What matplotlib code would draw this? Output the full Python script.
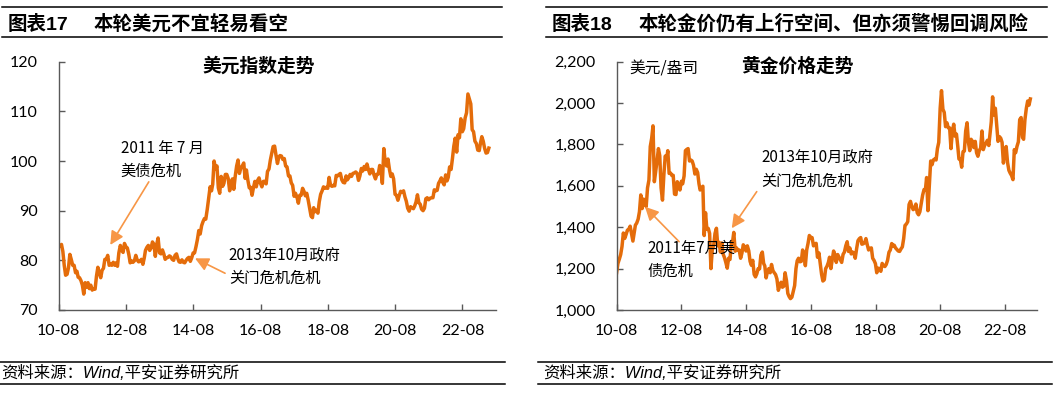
import matplotlib
matplotlib.use('Agg')
import matplotlib.pyplot as plt
import matplotlib.dates as mdates
from matplotlib.lines import Line2D
from matplotlib.ticker import FuncFormatter, MultipleLocator
import pandas as pd

plt.rcParams['font.family'] = ['Noto Sans CJK SC', 'DejaVu Sans']

# 半月频数据（每月15日、月末），起点 2010-07-31
start_date = '2010-07-31'

dxy_values = [
    83.0, 82.8, 83.2, 81.8, 79.0, 77.0, 77.2, 78.5, 81.2, 80.2, 79.0,  # 2010
    79.0, 77.5, 77.8, 76.6, 76.5, 75.9, 75.0, 73.2, 75.5, 74.6, 75.5, 74.3,
    75.0, 74.0, 74.3, 74.2, 76.8, 78.6, 77.5, 76.5, 78.0, 78.4, 80.2, 80.2,  # 2011
    81.0, 79.0, 79.3, 79.0, 79.6, 79.0, 79.5, 78.8, 81.5, 83.0, 82.0, 81.6,
    83.4, 82.7, 82.5, 81.2, 79.5, 79.9, 79.6, 79.9, 81.0, 80.1, 79.7, 79.8,  # 2012
    80.2, 79.2, 80.5, 82.0, 82.6, 83.0, 82.0, 82.5, 83.7, 83.2, 80.8, 83.2,
    84.5, 81.5, 81.3, 82.1, 81.3, 80.2, 80.5, 80.6, 80.9, 80.7, 80.2, 80.0,  # 2013
    81.0, 81.3, 80.3, 79.7, 79.6, 80.1, 79.6, 79.5, 80.0, 80.4, 80.6, 79.8,
    80.5, 81.5, 81.5, 82.8, 84.2, 86.0, 85.3, 87.0, 87.8, 88.4, 88.3, 90.3,  # 2014
    92.5, 94.8, 94.0, 95.3, 100.0, 98.4, 99.0, 94.6, 93.5, 96.9, 94.9, 95.5,
    97.3, 97.3, 96.5, 94.0, 95.5, 96.4, 94.3, 97.0, 99.0, 100.2, 97.5, 98.6,  # 2015
    99.0, 99.6, 96.5, 98.2, 96.2, 94.6, 94.7, 93.1, 94.6, 95.9, 94.8, 96.1,
    96.6, 95.5, 94.8, 95.9, 95.9, 95.4, 97.9, 98.4, 100.2, 101.5, 102.9, 103.0,  # 2016
    101.2, 99.5, 100.8, 101.1, 101.0, 100.3, 100.5, 99.0, 98.8, 97.0, 97.0, 95.6,
    95.1, 92.9, 93.5, 92.7, 91.5, 93.1, 93.1, 94.5, 93.9, 93.0, 93.5, 92.1,  # 2017
    90.6, 88.9, 88.6, 90.6, 89.8, 90.1, 89.5, 91.8, 93.3, 94.0, 94.8, 94.5,
    94.7, 94.5, 96.7, 95.1, 94.9, 95.1, 95.0, 97.1, 97.0, 97.3, 97.5, 96.2,  # 2018
    95.7, 95.6, 97.0, 96.2, 96.6, 97.3, 96.9, 97.5, 97.6, 97.8, 97.5, 96.1,
    97.0, 98.5, 98.0, 98.9, 98.3, 99.4, 98.3, 97.4, 98.3, 98.3, 97.2, 96.4,  # 2019
    97.3, 97.4, 99.1, 98.1, 95.5, 102.5, 99.8, 99.0, 100.4, 98.3, 96.9, 97.4,
    96.4, 93.3, 93.1, 92.1, 93.1, 93.9, 93.7, 94.0, 92.8, 91.9, 90.5, 89.9,  # 2020
    90.8, 90.6, 90.4, 90.9, 91.7, 93.2, 91.6, 91.3, 90.3, 90.0, 90.5, 92.4,
    92.6, 92.2, 92.5, 92.6, 92.6, 94.2, 94.0, 94.1, 95.5, 96.0, 96.6, 95.7,  # 2021
    95.2, 97.2, 96.0, 96.7, 98.8, 98.3, 100.5, 103.0, 104.6, 101.8, 105.3, 104.7,
    108.5, 105.9, 106.5, 108.7, 109.7, 113.5, 112.5, 111.5, 106.3, 105.9, 104.0, 103.5,  # 2022
    102.2, 102.1, 103.8, 104.9, 104.0, 102.5, 101.6, 101.7, 102.6,  # 2023
]

gold_values = [
    1180, 1225, 1246, 1268, 1307, 1372, 1346, 1365, 1386, 1390, 1405,  # 2010
    1370, 1333, 1375, 1410, 1420, 1439, 1475, 1556, 1490, 1536, 1530, 1500,
    1590, 1628, 1790, 1830, 1890, 1620, 1670, 1722, 1780, 1746, 1590, 1531,  # 2011
    1650, 1744, 1730, 1770, 1660, 1662, 1650, 1651, 1560, 1558, 1620, 1598,
    1580, 1622, 1610, 1648, 1770, 1776, 1780, 1720, 1725, 1720, 1700, 1657,  # 2012
    1680, 1664, 1610, 1580, 1590, 1598, 1360, 1470, 1390, 1394, 1370, 1200,
    1290, 1313, 1370, 1395, 1310, 1327, 1280, 1324, 1270, 1253, 1230, 1202,  # 2013
    1250, 1244, 1320, 1326, 1375, 1284, 1300, 1289, 1290, 1250, 1275, 1315,
    1305, 1285, 1310, 1286, 1235, 1216, 1240, 1172, 1160, 1175, 1200, 1199,  # 2014
    1265, 1280, 1225, 1213, 1155, 1187, 1200, 1180, 1220, 1190, 1180, 1171,
    1150, 1095, 1115, 1134, 1110, 1115, 1180, 1142, 1080, 1065, 1055, 1062,  # 2015
    1090, 1118, 1200, 1238, 1250, 1233, 1235, 1290, 1270, 1214, 1290, 1321,
    1360, 1350, 1350, 1310, 1320, 1322, 1255, 1276, 1225, 1173, 1140, 1146,  # 2016
    1200, 1212, 1230, 1255, 1200, 1245, 1285, 1266, 1230, 1268, 1255, 1242,
    1230, 1269, 1280, 1311, 1330, 1283, 1300, 1271, 1280, 1275, 1250, 1297,  # 2017
    1335, 1345, 1350, 1318, 1320, 1325, 1345, 1315, 1290, 1298, 1300, 1250,
    1240, 1224, 1180, 1202, 1200, 1187, 1225, 1215, 1210, 1220, 1240, 1279,  # 2018
    1290, 1321, 1310, 1313, 1300, 1292, 1285, 1283, 1295, 1305, 1345, 1409,
    1415, 1427, 1510, 1525, 1500, 1485, 1490, 1512, 1470, 1460, 1475, 1517,  # 2019
    1555, 1582, 1580, 1640, 1480, 1600, 1720, 1702, 1725, 1730, 1725, 1780,
    1810, 1975, 2060, 1970, 1955, 1886, 1905, 1880, 1880, 1780, 1860, 1898,  # 2020
    1840, 1850, 1790, 1730, 1730, 1690, 1765, 1768, 1865, 1905, 1810, 1770,
    1825, 1815, 1785, 1815, 1760, 1743, 1770, 1783, 1865, 1775, 1795, 1806,  # 2021
    1820, 1795, 1855, 1909, 2030, 1942, 1975, 1897, 1815, 1838, 1830, 1810,
    1710, 1765, 1790, 1712, 1675, 1661, 1650, 1630, 1775, 1760, 1790, 1813,  # 2022
    1920, 1930, 1835, 1825, 1920, 1975, 2010, 1990, 2020,  # 2023
]

try:
    dates = pd.date_range(start_date, periods=len(dxy_values), freq='SME')
except ValueError:
    dates = pd.date_range(start_date, periods=len(dxy_values), freq='SM')

x_min, x_max = pd.Timestamp('2010-08-01'), pd.Timestamp('2023-08-01')

line_color = '#E46C0A'
arrow_color = '#F79646'
spine_color = '#595959'
tick_font = ['Lato', 'Noto Sans CJK SC']


def style_axis(ax, ylim, ystep, yfmt):
    ax.set_xlim(x_min, x_max)
    ax.set_ylim(*ylim)
    ax.yaxis.set_major_locator(MultipleLocator(ystep))
    ax.yaxis.set_major_formatter(FuncFormatter(yfmt))
    ax.xaxis.set_major_locator(mdates.YearLocator(2, month=8, day=1))
    ax.xaxis.set_major_formatter(mdates.DateFormatter('%y-%m'))
    for s in ['top', 'right']:
        ax.spines[s].set_visible(False)
    for s in ['left', 'bottom']:
        ax.spines[s].set_color(spine_color)
        ax.spines[s].set_linewidth(1.0)
    ax.tick_params(axis='both', direction='in', length=4, width=1, color=spine_color,
                   labelsize=11.5)
    ax.tick_params(axis='y', pad=15)
    ax.tick_params(axis='x', pad=10)
    for lab in ax.get_xticklabels() + ax.get_yticklabels():
        lab.set_family(tick_font)


def arrow(ax, tip, tail):
    ax.annotate('', xy=(mdates.date2num(pd.Timestamp(tip[0])), tip[1]),
                xytext=(mdates.date2num(pd.Timestamp(tail[0])), tail[1]),
                arrowprops=dict(arrowstyle='-|>,head_length=0.9,head_width=0.45',
                                color=arrow_color, lw=1.2, shrinkA=0, shrinkB=0,
                                mutation_scale=9))


fig = plt.figure(figsize=(10.54, 3.96), dpi=100)

# 左图：美元指数
ax1 = fig.add_axes([0.0557, 0.2172, 0.4149, 0.627])
ax1.plot(dates, dxy_values, color=line_color, lw=2.5)
style_axis(ax1, (70, 120), 10, lambda v, p: f'{v:.0f}')
ax1.text(0.458, 0.981, '美元指数走势', transform=ax1.transAxes, ha='center', va='center',
         fontsize=13.5, fontweight='bold')
ax1.text(0.142, 0.606, '2011 年 7 月\n美债危机', transform=ax1.transAxes, ha='left',
         va='center', fontsize=11, linespacing=1.45)
ax1.text(0.389, 0.173, '2013年10月政府\n关门危机危机', transform=ax1.transAxes, ha='left',
         va='center', fontsize=11, linespacing=1.45)
arrow(ax1, ('2012-02-12', 83.1), ('2013-04-05', 95.8))
arrow(ax1, ('2014-08-20', 80.4), ('2015-07-12', 77.4))

# 右图：黄金价格
ax2 = fig.add_axes([0.5851, 0.2172, 0.399, 0.627])
ax2.plot(dates, gold_values, color=line_color, lw=2.5)
style_axis(ax2, (1000, 2200), 200, lambda v, p: f'{v:,.0f}')
ax2.text(0.430, 0.981, '黄金价格走势', transform=ax2.transAxes, ha='center', va='center',
         fontsize=13.5, fontweight='bold')
ax2.text(0.030, 0.969, '美元/盎司', transform=ax2.transAxes, ha='left', va='center',
         fontsize=11.3)
ax2.text(0.343, 0.566, '2013年10月政府\n关门危机危机', transform=ax2.transAxes, ha='left',
         va='center', fontsize=11, linespacing=1.45)
ax2.text(0.073, 0.203, '2011年7月美\n债危机', transform=ax2.transAxes, ha='left',
         va='center', fontsize=11, linespacing=1.45)
arrow(ax2, ('2014-02-20', 1395), ('2014-11-29', 1572))
arrow(ax2, ('2011-06-16', 1499), ('2012-07-06', 1330))

# 标题栏与来源栏
head_font = ['Liberation Sans', 'Noto Sans CJK SC']
for x0, x1 in [(2, 502), (546, 1047)]:
    for yy in [0.9823, 0.9058]:
        fig.add_artist(Line2D([x0 / 1054, x1 / 1054], [yy, yy], color='black', lw=1.1))
for x0, x1 in [(0, 505), (538, 1052)]:
    for yy in [0.0866, 0.0295]:
        fig.add_artist(Line2D([x0 / 1054, x1 / 1054], [yy, yy], color='black', lw=1.1))

fig.text(7.3 / 1054, 0.939, '图表17', family=head_font, fontsize=14, fontweight='bold', va='center')
fig.text(94 / 1054, 0.939, '本轮美元不宜轻易看空', family=head_font, fontsize=14,
         fontweight='bold', va='center')
fig.text(552 / 1054, 0.939, '图表18', family=head_font, fontsize=14, fontweight='bold', va='center')
fig.text(638.7 / 1054, 0.939, '本轮金价仍有上行空间、但亦须警惕回调风险', family=head_font,
         fontsize=14, fontweight='bold', va='center')

foot_font = ['Liberation Sans', 'Noto Sans CJK SC']
fig.text(1 / 1054, 0.0573, '资料来源：Wind,平安证券研究所', family=foot_font, fontsize=11.8,
         style='italic', va='center')
fig.text(542.7 / 1054, 0.0573, '资料来源：Wind,平安证券研究所', family=foot_font, fontsize=11.8,
         style='italic', va='center')

fig.savefig('out.png', dpi=100)
